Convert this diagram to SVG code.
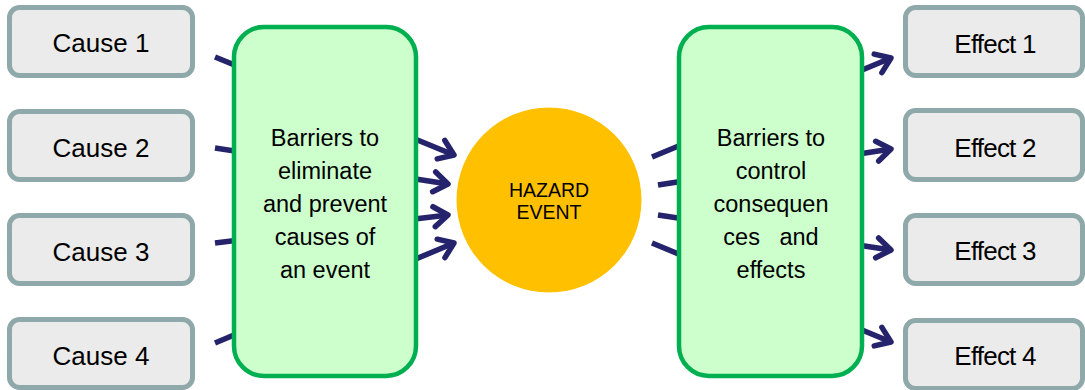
<svg xmlns="http://www.w3.org/2000/svg" width="1085" height="390" viewBox="0 0 1085 390">
<style>
.box{fill:#EBEBEB;stroke:#8FA8AA;stroke-width:5}
.bar{fill:#CCFFCC;stroke:#00B050;stroke-width:4.5}
.t{font-family:"Liberation Sans",Arial,sans-serif;fill:#000;text-anchor:middle}
.bt{font-size:23.5px}
.ct{font-size:26px}
.et{font-size:26px;letter-spacing:-0.8px}
.ht{font-size:19.5px}
.conn{stroke:#25236B;stroke-width:5.5;fill:none}
</style>
<defs>
<marker id="ah" markerUnits="userSpaceOnUse" markerWidth="40" markerHeight="40" viewBox="-20 -20 40 40" refX="0" refY="0" orient="auto" overflow="visible">
<path d="M-14,-10 L0,0 L-14,10" fill="none" stroke="#25236B" stroke-width="5.5" stroke-linecap="round" stroke-linejoin="round"/>
</marker>
</defs>
<rect width="1085" height="390" fill="#FFFFFF"/>
<g id="connectors">
<line class="conn" x1="215" y1="57" x2="454" y2="155" marker-end="url(#ah)"/>
<line class="conn" x1="215" y1="148" x2="448" y2="184" marker-end="url(#ah)"/>
<line class="conn" x1="215" y1="243" x2="448" y2="215" marker-end="url(#ah)"/>
<line class="conn" x1="215" y1="343" x2="454" y2="243" marker-end="url(#ah)"/>
<line class="conn" x1="652" y1="157" x2="891" y2="58" marker-end="url(#ah)"/>
<line class="conn" x1="658" y1="185" x2="891" y2="149" marker-end="url(#ah)"/>
<line class="conn" x1="658" y1="215" x2="891" y2="250" marker-end="url(#ah)"/>
<line class="conn" x1="652" y1="243" x2="891" y2="342" marker-end="url(#ah)"/>
</g>
<g id="cause1"><rect class="box" x="9.5" y="7.5" width="183" height="68" rx="10"/><text class="t ct" x="101" y="52">Cause 1</text></g>
<g id="cause2"><rect class="box" x="9.5" y="111.5" width="183" height="68" rx="10"/><text class="t ct" x="101" y="157">Cause 2</text></g>
<g id="cause3"><rect class="box" x="9.5" y="215.5" width="183" height="68" rx="10"/><text class="t ct" x="101" y="261">Cause 3</text></g>
<g id="cause4"><rect class="box" x="9.5" y="319.5" width="183" height="68" rx="10"/><text class="t ct" x="101" y="365">Cause 4</text></g>
<g id="barrier-prevent">
<rect class="bar" x="234" y="27" width="182" height="349" rx="30"/>
<text class="t bt" x="325" y="146">Barriers to</text>
<text class="t bt" x="325" y="179">eliminate</text>
<text class="t bt" x="325" y="212">and prevent</text>
<text class="t bt" x="325" y="245">causes of</text>
<text class="t bt" x="325" y="278">an event</text>
</g>
<g id="hazard">
<circle cx="549" cy="200" r="92.5" fill="#FFC000"/>
<text class="t ht" x="549" y="197">HAZARD</text>
<text class="t ht" x="549" y="219">EVENT</text>
</g>
<g id="barrier-control">
<rect class="bar" x="679" y="27" width="183" height="349" rx="30"/>
<text class="t bt" x="771" y="146">Barriers to</text>
<text class="t bt" x="771" y="179">control</text>
<text class="t bt" x="771" y="212">consequen</text>
<text class="t bt" x="771" y="245" style="white-space:pre">ces   and</text>
<text class="t bt" x="771" y="278">effects</text>
</g>
<g id="effect1"><rect class="box" x="905.5" y="7.5" width="177" height="68" rx="10"/><text class="t et" x="995" y="53">Effect 1</text></g>
<g id="effect2"><rect class="box" x="905.5" y="110.5" width="177" height="69" rx="10"/><text class="t et" x="995" y="157">Effect 2</text></g>
<g id="effect3"><rect class="box" x="905.5" y="215.5" width="177" height="68" rx="10"/><text class="t et" x="995" y="260">Effect 3</text></g>
<g id="effect4"><rect class="box" x="905.5" y="320.5" width="177" height="68" rx="10"/><text class="t et" x="995" y="365">Effect 4</text></g>
</svg>
